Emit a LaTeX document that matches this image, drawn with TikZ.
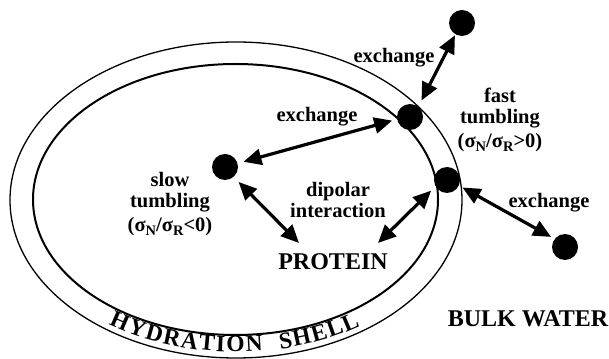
\documentclass[tikz,border=0pt]{standalone}
\usepackage{fontspec}
\setmainfont{Liberation Serif}
\usetikzlibrary{arrows.meta,decorations.text,calc}
\newcommand\mysub[1]{\raisebox{-0.4ex}{\fontsize{14.5}{14.5}\selectfont #1}}
\begin{document}
\begin{tikzpicture}[x=1pt,y=1pt,
  dot/.style={circle,fill=black,minimum size=26pt,inner sep=0pt},
  lbl/.style={font=\bfseries\fontsize{20.5}{21}\selectfont,align=center,inner sep=0pt},
  big/.style={font=\bfseries\fontsize{24}{24}\selectfont,inner sep=0pt},
  shell/.style={decorate,decoration={text along path,text align=fit to path,
    text={|\bfseries\fontsize{23.5}{23.5}\selectfont|#1}}},
  dbl/.style={line width=3.2pt,{Triangle[length=18pt,width=16pt]}-{Triangle[length=18pt,width=16pt]}},
]
\useasboundingbox (0,0) rectangle (609,358);
\draw[line width=1.3pt] (236,158) ellipse [x radius=226,y radius=158];
\draw[line width=2pt] (235.5,158.5) ellipse [x radius=202.5,y radius=135.5];
\path[shell=HYDRATION] (236,158) ++(235:222 and 152)
  arc[start angle=235,end angle=277,x radius=222,y radius=152];
\path[shell=SHELL] (236,158) ++(281.5:222 and 152)
  arc[start angle=281.5,end angle=304,x radius=222,y radius=152];
\node[dot] (top) at (462,335) {};
\node[dot] (fast) at (410,241) {};
\node[dot] (slow) at (225,191) {};
\node[dot] (mid) at (447,178) {};
\node[dot] (bot) at (565,111) {};
\node[big] (protein) at (333,96) {PROTEIN};
\node[big] (bulk) at (528,39) {BULK WATER};
\node[lbl] (ex1) at (394,300.5) {exchange};
\node[lbl] (ex2) at (317,241.5) {exchange};
\node[lbl] (ex3) at (549,155.5) {exchange};
\node[lbl] (fastlbl) at (500,238) {fast\\tumbling\\[3pt](σ\mysub{N}/σ\mysub{R}>0)};
\node[lbl] (slowlbl) at (170,154) {slow\\tumbling\\[3pt](σ\mysub{N}/σ\mysub{R}<0)};
\node[lbl] (dip) at (338,158) {dipolar\\interaction};
\draw[dbl,shorten <=1pt,shorten >=7pt] (top.240) -- (fast.51);
\draw[dbl,shorten <=6pt,shorten >=5pt] (slow.16) -- (fast.190);
\draw[dbl,shorten <=7pt] (slow.311) -- ($(protein.center)+(-34,19)$);
\draw[dbl,shorten >=6pt] ($(protein.center)+(45,19)$) -- (mid.209);
\draw[dbl,shorten <=4pt,shorten >=4pt] (mid.335) -- (bot.142);
\end{tikzpicture}
\end{document}
